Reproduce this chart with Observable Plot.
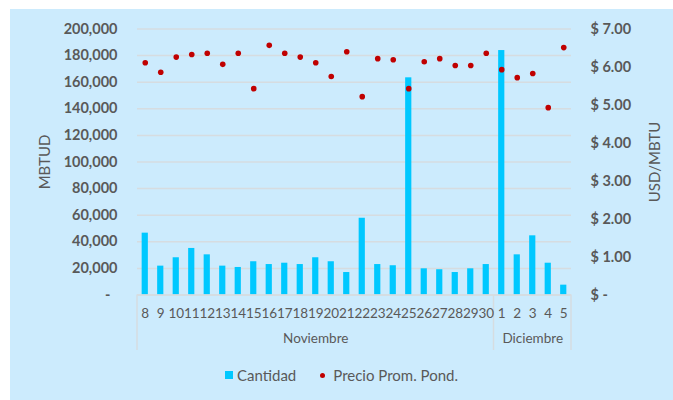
<!DOCTYPE html>
<html>
<head>
<meta charset="utf-8">
<script src="https://cdn.jsdelivr.net/npm/d3@7"></script>
<script src="https://cdn.jsdelivr.net/npm/@observablehq/plot@0.6"></script>
<style>
  html, body { margin: 0; padding: 0; background: #ffffff; }
  #page { position: relative; width: 673px; height: 400px; overflow: hidden; background: #ffffff; }
  #bg { position: absolute; left: 10px; top: 9px; width: 663px; height: 391px; background: #CCEBFD; font-family: Lato, sans-serif; }
  #chart { position: absolute; left: 0; top: 0; }
  #legend { position: absolute; left: 0; top: 357px; width: 663px; display: flex; justify-content: center; align-items: center; font-size: 15px; color: #595959; font-family: Lato, sans-serif; }
  .sw { display: inline-block; width: 8px; height: 8px; background: #00C8FF; margin-right: 4px; }
  .dt { display: inline-block; width: 5px; height: 5px; border-radius: 50%; background: #C00000; margin-left: 24px; margin-right: 8px; }
</style>
</head>
<body>
<div id="page"><div id="bg"><div id="chart"></div>
<div id="legend"><span class="sw"></span><span>Cantidad</span><span class="dt"></span><span>Precio Prom. Pond.</span></div>
</div></div>
<script>
const monthNames = ["Noviembre", "Diciembre"];
const novDays = [8,9,10,11,12,13,14,15,16,17,18,19,20,21,22,23,24,25,26,27,28,29,30];
const decDays = [1,2,3,4,5];
const cantidad = [46500,21700,28000,35000,30200,21700,20700,25000,22900,23900,22900,28000,25000,16900,
                  57700,22900,22000,163300,19700,19000,16900,19700,22900,
                  183800,30200,44500,23900,7400];
const precio = [6.11,5.86,6.26,6.33,6.36,6.07,6.36,5.43,6.57,6.36,6.26,6.11,5.75,6.40,
                5.22,6.22,6.19,5.43,6.14,6.22,6.04,6.04,6.36,
                5.93,5.72,5.83,4.93,6.51];
const leftTicks = [0,20000,40000,60000,80000,100000,120000,140000,160000,180000,200000];
const rightTicks = [0,1,2,3,4,5,6,7];

const monthGroups = [novDays, decDays];
const days = monthGroups.flat();
const rows = days.map((d, i) => ({i, day: d, cantidad: cantidad[i], precio: precio[i]}));
const k = d3.max(leftTicks) / d3.max(rightTicks);

let start = 0;
const groups = monthGroups.map((g, j) => {
  const o = {name: monthNames[j], start: start - 0.5, end: start + g.length - 0.5, mid: start + (g.length - 1) / 2};
  start += g.length;
  return o;
});
const boundaries = [groups[0].start, ...groups.map(g => g.end)];

const gray = "#595959";
const gridColor = "#D6DCE0";

const plot = Plot.plot({
  width: 663,
  height: 355,
  marginLeft: 127,
  marginRight: 102,
  marginTop: 19.5,
  marginBottom: 69.5,
  style: {background: "transparent", fontFamily: "Lato, sans-serif", color: gray},
  x: {domain: [-0.5, days.length - 0.5]},
  y: {domain: [0, d3.max(leftTicks)]},
  marks: [
    Plot.gridY(leftTicks, {stroke: gridColor, strokeOpacity: 1, strokeWidth: 1.5}),
    Plot.rectY(rows, {x1: d => d.i - 0.2, x2: d => d.i + 0.2, y: "cantidad", fill: "#00C8FF"}),
    Plot.dot(rows, {x: "i", y: d => d.precio * k, r: 2.8, fill: "#C00000"}),
    Plot.ruleY([0], {stroke: gridColor, strokeWidth: 1.5}),
    (index, scales, values, dimensions) => {
      const g = d3.create("svg:g").attr("stroke", gridColor).attr("stroke-width", 1.5);
      const y0 = dimensions.height - dimensions.marginBottom;
      for (const b of boundaries) {
        g.append("line").attr("x1", scales.x(b)).attr("x2", scales.x(b)).attr("y1", y0).attr("y2", y0 + 55.5);
      }
      return g.node();
    },
    Plot.axisY(leftTicks, {anchor: "left", tickSize: 0, tickPadding: 20, label: null,
      tickFormat: d => d === 0 ? "-  " : d3.format(",")(d), fontSize: 14.5, fontWeight: "bold", fill: gray}),
    Plot.axisY(rightTicks.map(t => t * k), {anchor: "right", tickSize: 0, tickPadding: 19, label: null,
      tickFormat: d => "$ " + (d === 0 ? "-" : (d / k).toFixed(2)), fontSize: 14.5, fontWeight: "bold", fill: gray}),
    Plot.axisX(rows.map(d => d.i), {anchor: "bottom", tickSize: 0, tickPadding: 13, label: null,
      tickFormat: i => days[i], fontSize: 13.5, fill: gray}),
    Plot.text(groups, {x: "mid", text: "name", frameAnchor: "bottom", dy: 48, fontSize: 13.5, fill: gray}),
    Plot.text(["MBTUD"], {frameAnchor: "left", dx: -92, rotate: -90, textAnchor: "middle", fontSize: 15, fill: gray}),
    Plot.text(["USD/MBTU"], {frameAnchor: "right", dx: 84, rotate: -90, textAnchor: "middle", fontSize: 15, fill: gray})
  ]
});
document.getElementById("chart").appendChild(plot);
</script>
</body>
</html>
